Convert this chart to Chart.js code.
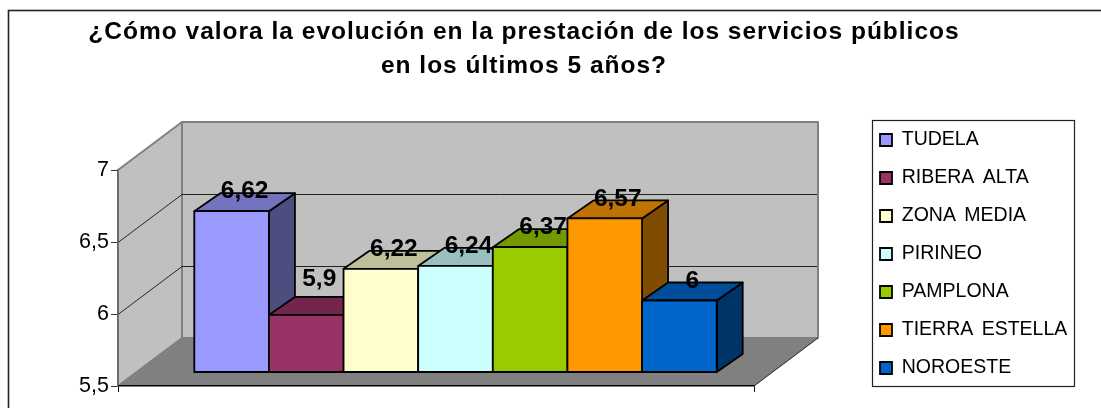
<!DOCTYPE html>
<html>
<head>
<meta charset="utf-8">
<style>html,body{margin:0;padding:0;background:#fff}canvas{display:block}</style>
<script src="https://cdn.jsdelivr.net/npm/chart.js@4/dist/chart.umd.min.js"></script>
</head>
<body>
<canvas id="c" width="1101" height="408" style="width:1101px;height:408px"></canvas>
<script>
const titleLines = ['¿Cómo valora la evolución en la prestación de los servicios públicos', 'en los últimos 5 años?'];
const regions = ['TUDELA', 'RIBERA ALTA', 'ZONA MEDIA', 'PIRINEO', 'PAMPLONA', 'TIERRA ESTELLA', 'NOROESTE'];
const scores = [6.62, 5.9, 6.22, 6.24, 6.37, 6.57, 6];
const colours = ['#9999FF', '#993366', '#FFFFCC', '#CCFFFF', '#99CC00', '#FF9900', '#0066CC'];
const yTicks = [5.5, 6, 6.5, 7];

const FONT = '"Liberation Sans", Arial, sans-serif';
const WALL_DX = 64, WALL_DY = 48;      // depth of the 3D box
const BAR_DX = 19.5, BAR_DY = 14;      // where the bars stand inside the box
const DEPTH_DX = 26, DEPTH_DY = 18;    // depth of each bar

function shade(hex, f) {
  const n = parseInt(hex.slice(1), 16);
  const c = [n >> 16 & 255, n >> 8 & 255, n & 255].map(v => Math.round(v * f));
  return 'rgb(' + c.join(',') + ')';
}
function comma(v) { return String(v).replace('.', ','); }
function poly(ctx, pts, fill, stroke, lw) {
  ctx.beginPath();
  pts.forEach((p, i) => i ? ctx.lineTo(p[0], p[1]) : ctx.moveTo(p[0], p[1]));
  ctx.closePath();
  if (fill) { ctx.fillStyle = fill; ctx.fill(); }
  if (stroke) { ctx.strokeStyle = stroke; ctx.lineWidth = lw; ctx.lineJoin = 'round'; ctx.stroke(); }
}

const box3d = {
  id: 'box3d',
  beforeLayout(chart) {
    if (chart.$patched) return;
    chart.$patched = true;
    const l = chart.legend, lu = l.update, ld = l.draw;
    l.update = function (a, b, m) { lu.call(this, a, b, m); this.width = 0; };
    l.draw = function () {
      const ctx = this.ctx;
      ctx.save();
      ctx.wordSpacing = '3px';
      ld.call(this);
      ctx.restore();
    };
    const t = chart.titleBlock, up = t.update, td = t.draw;
    t.update = function (a, b, m) { up.call(this, a, b, m); this.height = 0; };
    t.draw = function () {
      const ctx = this.ctx;
      ctx.save();
      ctx.letterSpacing = '1px';
      td.call(this);
      ctx.restore();
    };
  },
  afterLayout(chart) {
    const t = chart.titleBlock;
    t.left = 88; t.right = 960; t.top = 15; t.bottom = 85;
    const l = chart.legend;
    const pad = l.options.labels.padding;
    l.left = 880 - pad; l.right = 1080;
    l.top = 140 - 9.75 - pad; l.bottom = 400;
  },
  beforeDraw(chart) {
    const ctx = chart.ctx, a = chart.chartArea, y = chart.scales.y;
    ctx.save();
    ctx.fillStyle = '#fff';
    ctx.fillRect(0, 0, chart.width, chart.height);
    ctx.lineWidth = 1.6;
    ctx.strokeStyle = '#222';
    ctx.strokeRect(8.5, 10.5, 1200, 500);
    const L = a.left, R = a.right, T = a.top, B = a.bottom;
    poly(ctx, [[L + WALL_DX, T - WALL_DY], [R + WALL_DX, T - WALL_DY], [R + WALL_DX, B - WALL_DY], [L + WALL_DX, B - WALL_DY]], '#C0C0C0', '#808080', 2);
    poly(ctx, [[L, T], [L + WALL_DX, T - WALL_DY], [L + WALL_DX, B - WALL_DY], [L, B]], '#C0C0C0', '#808080', 2);
    poly(ctx, [[L, B], [R, B], [R + WALL_DX, B - WALL_DY], [L + WALL_DX, B - WALL_DY]], '#808080');
    ctx.strokeStyle = '#222'; ctx.lineWidth = 1;
    ctx.beginPath(); ctx.moveTo(R, B); ctx.lineTo(R + WALL_DX, B - WALL_DY); ctx.stroke();
    // gridlines on the side and back walls
    yTicks.slice(1, -1).forEach(v => {
      const py = Math.round(y.getPixelForValue(v)) + 0.5;
      ctx.beginPath();
      ctx.moveTo(L, py);
      ctx.lineTo(L + WALL_DX, py - WALL_DY);
      ctx.lineTo(R + WALL_DX - 1, py - WALL_DY);
      ctx.stroke();
    });
    ctx.restore();
  },
  // Bars are painted left to right so each one overlaps its left neighbour's depth faces.
  beforeDatasetsDraw(chart) {
    const ctx = chart.ctx;
    ctx.save();
    ctx.translate(BAR_DX, -BAR_DY + 0.5);
    chart.data.datasets.forEach((ds, i) => {
      const meta = chart.getDatasetMeta(i), el = meta.data[0];
      const l = el.x - el.width / 2, r = el.x + el.width / 2, t = el.y, b = el.base;
      poly(ctx, [[r, t], [r + DEPTH_DX, t - DEPTH_DY], [r + DEPTH_DX, b - DEPTH_DY], [r, b]], shade(ds.backgroundColor, 0.5), '#000', 1.8);
      poly(ctx, [[l, t], [l + DEPTH_DX, t - DEPTH_DY], [r + DEPTH_DX, t - DEPTH_DY], [r, t]], shade(ds.backgroundColor, 0.75), '#000', 1.8);
      meta.controller.draw();
      poly(ctx, [[l, t], [r, t], [r, b], [l, b]], null, '#000', 1.8);
    });
    ctx.restore();

    ctx.save();
    ctx.font = 'bold 24.5px ' + FONT;
    ctx.fillStyle = '#000';
    ctx.textAlign = 'center';
    ctx.textBaseline = 'middle';
    chart.data.datasets.forEach((ds, i) => {
      const el = chart.getDatasetMeta(i).data[0];
      const lift = ds.labelLift || 0;
      ctx.fillText(comma(ds.data[0]), el.x + BAR_DX + DEPTH_DX / 2, el.y - BAR_DY - DEPTH_DY - 1 - lift);
    });
    ctx.restore();
    return false;
  },
  afterDraw(chart) {
    const ctx = chart.ctx;
    ctx.save();
    ctx.strokeStyle = '#222';
    ctx.lineWidth = 1.2;
    ctx.strokeRect(872.5, 120.5, 202, 266);
    ctx.restore();
  }
};

new Chart(document.getElementById('c'), {
  type: 'bar',
  plugins: [box3d],
  data: {
    labels: [''],
    datasets: regions.map((name, i) => ({
      label: name,
      data: [scores[i]],
      base: yTicks[0],
      backgroundColor: colours[i],
      borderColor: '#000',
      borderWidth: 0,
      clip: false,
      labelLift: name === 'RIBERA ALTA' ? 16 : 0
    }))
  },
  options: {
    responsive: false,
    animation: false,
    events: [],
    categoryPercentage: 0.8214,
    barPercentage: 1,
    layout: { padding: { left: 0, right: 347, top: 170, bottom: 0 } },
    scales: {
      x: {
        afterFit(s) { s.height = 22; },
        grid: { offset: true, drawOnChartArea: false, color: '#111', tickLength: 6, lineWidth: 1 },
        border: { color: '#000', width: 1.5 },
        ticks: { display: true, font: { size: 1 }, padding: 0 }
      },
      y: {
        min: 5.5, max: 7,
        afterFit(s) { s.width = 118; },
        afterBuildTicks(s) { s.ticks = yTicks.map(v => ({ value: v })); },
        grid: { drawOnChartArea: false, color: '#333', tickLength: 7, lineWidth: 1 },
        border: { color: '#666', width: 1.5 },
        ticks: {
          color: '#000',
          padding: 2,
          font: { family: FONT, size: 21.5 },
          callback: v => comma(v)
        }
      }
    },
    plugins: {
      tooltip: { enabled: false },
      title: {
        display: true,
        text: titleLines,
        color: '#000',
        padding: 0,
        font: { family: FONT, size: 24.5, weight: 'bold', lineHeight: 1.39 }
      },
      legend: {
        display: true,
        position: 'right',
        align: 'start',
        labels: {
          boxWidth: 12,
          boxHeight: 12,
          padding: 18.5,
          color: '#000',
          font: { family: FONT, size: 19.5 },
          generateLabels(chart) {
            return Chart.defaults.plugins.legend.labels.generateLabels(chart)
              .map(it => Object.assign(it, { lineWidth: 1.8, strokeStyle: '#000' }));
          }
        }
      }
    }
  }
});
</script>
</body>
</html>
